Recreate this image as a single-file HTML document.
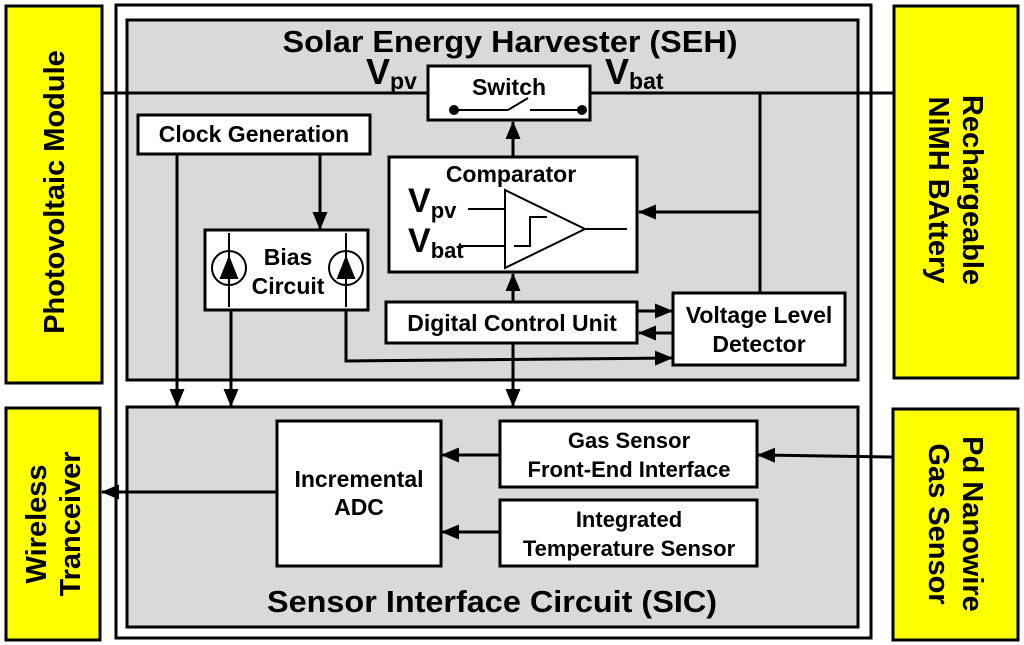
<!DOCTYPE html>
<html><head><style>
html,body{margin:0;padding:0;background:#fff;}
svg{display:block;font-family:"Liberation Sans",Arial,sans-serif;font-weight:bold;}
</style></head><body>
<svg width="1024" height="645" viewBox="0 0 1024 645" xmlns="http://www.w3.org/2000/svg">
<defs>
<marker id="a" markerWidth="18" markerHeight="18" refX="17" refY="9" orient="auto" markerUnits="userSpaceOnUse" viewBox="0 0 18 18"><path d="M0,1.5 L18,9 L0,16.5 z" fill="#000"/></marker>
</defs>
<g stroke="#000" stroke-width="3">
<rect x="6" y="6" width="96" height="377" fill="#ffff00"/>
<rect x="6" y="408" width="94" height="232" fill="#ffff00"/>
<rect x="894" y="6" width="124" height="372" fill="#ffff00"/>
<rect x="893" y="409" width="125" height="231" fill="#ffff00"/>
<rect x="116" y="5" width="755" height="633" fill="#fff"/>
<rect x="127" y="20" width="731" height="360" fill="#d9d9d9"/>
<rect x="127" y="407" width="731" height="220" fill="#d9d9d9"/>
</g>
<g stroke="#000" stroke-width="3" fill="none">
<line x1="102" y1="93" x2="428" y2="93"/>
<line x1="590" y1="93" x2="894" y2="93"/>
<line x1="760" y1="93" x2="760" y2="293"/>
<line x1="760" y1="212" x2="639" y2="212" marker-end="url(#a)"/>
<line x1="513" y1="157" x2="513" y2="122" marker-end="url(#a)"/>
<line x1="513" y1="302" x2="513" y2="274" marker-end="url(#a)"/>
<line x1="513" y1="343" x2="513" y2="406" marker-end="url(#a)"/>
<line x1="637" y1="311" x2="672" y2="311" marker-end="url(#a)"/>
<line x1="673" y1="333" x2="639" y2="333" marker-end="url(#a)"/>
<polyline points="346,310 346,361 672,358" marker-end="url(#a)"/>
<line x1="177" y1="154" x2="177" y2="406" marker-end="url(#a)"/>
<line x1="320" y1="154" x2="320" y2="229" marker-end="url(#a)"/>
<line x1="231" y1="310" x2="231" y2="406" marker-end="url(#a)"/>
<line x1="893" y1="457" x2="758" y2="455" marker-end="url(#a)"/>
<line x1="500" y1="455" x2="442" y2="455" marker-end="url(#a)"/>
<line x1="500" y1="532" x2="442" y2="532" marker-end="url(#a)"/>
<line x1="277" y1="492" x2="102" y2="492" marker-end="url(#a)"/>
</g>
<g stroke="#000" stroke-width="3" fill="#fff">
<rect x="428" y="66" width="162" height="54"/>
<rect x="138" y="115" width="232" height="39"/>
<rect x="205" y="230" width="163" height="80"/>
<rect x="389" y="157" width="248" height="115"/>
<rect x="386" y="302" width="251" height="41"/>
<rect x="673" y="293" width="172" height="72"/>
<rect x="277" y="421" width="164" height="145"/>
<rect x="500" y="421" width="257" height="66"/>
<rect x="500" y="500" width="257" height="66"/>
</g>
<g stroke="#000" stroke-width="2" fill="#000">
<circle cx="454" cy="110" r="4"/><circle cx="582" cy="110" r="4"/>
<line x1="454" y1="110" x2="508" y2="110"/>
<line x1="508" y1="110" x2="528" y2="98"/>
<line x1="530" y1="110" x2="582" y2="110"/>
</g>
<g stroke="#000" stroke-width="2" fill="none">
<polygon points="505,190 505,268 585,229" fill="#fff"/>
<line x1="585" y1="229" x2="627" y2="229"/>
<line x1="468" y1="209" x2="505" y2="209"/>
<line x1="460" y1="246" x2="505" y2="246"/>
<polyline points="514,246 530,246 530,217 547,217"/>
</g>
<g stroke="#000" stroke-width="2" fill="none">
<line x1="229" y1="233" x2="229" y2="307"/>
<circle cx="229" cy="268" r="17"/>
<polygon points="229,258 221,278 237,278" fill="#000"/>
<line x1="346" y1="233" x2="346" y2="307"/>
<circle cx="346" cy="268" r="17"/>
<polygon points="346,258 338,278 354,278" fill="#000"/>
</g>
<g fill="#000" text-anchor="middle">
<text x="510" y="52" font-size="31" textLength="455" lengthAdjust="spacingAndGlyphs">Solar Energy Harvester (SEH)</text>
<text x="492" y="612" font-size="31" textLength="450" lengthAdjust="spacingAndGlyphs">Sensor Interface Circuit (SIC)</text>
<text x="509" y="95" font-size="23">Switch</text>
<text x="254" y="142" font-size="23">Clock Generation</text>
<text x="288" y="265" font-size="23">Bias</text>
<text x="288" y="294" font-size="23">Circuit</text>
<text x="511" y="182" font-size="23">Comparator</text>
<text x="512" y="331" font-size="23">Digital Control Unit</text>
<text x="759" y="323" font-size="23">Voltage Level</text>
<text x="759" y="352" font-size="23">Detector</text>
<text x="359" y="487" font-size="23">Incremental</text>
<text x="359" y="515" font-size="23">ADC</text>
<text x="629" y="448" font-size="22">Gas Sensor</text>
<text x="629" y="477" font-size="22">Front-End Interface</text>
<text x="629" y="527" font-size="22">Integrated</text>
<text x="629" y="556" font-size="22">Temperature Sensor</text>
</g>
<g fill="#000">
<text x="366" y="84" font-size="36">V<tspan font-size="23" dy="5">pv</tspan></text>
<text x="605" y="84" font-size="36">V<tspan font-size="23" dy="5">bat</tspan></text>
<text x="408" y="212" font-size="34">V<tspan font-size="22" dy="6">pv</tspan></text>
<text x="408" y="252" font-size="34">V<tspan font-size="22" dy="6">bat</tspan></text>
</g>
<g fill="#000" text-anchor="middle" font-size="29">
<text transform="translate(64,192) rotate(-90)">Photovoltaic Module</text>
<text transform="translate(46,524) rotate(-90)">Wireless</text>
<text transform="translate(80,524) rotate(-90)">Tranceiver</text>
<text transform="translate(963,190) rotate(90)">Rechargeable</text>
<text transform="translate(929,190) rotate(90)">NiMH BAttery</text>
<text transform="translate(963,524) rotate(90)">Pd Nanowire</text>
<text transform="translate(929,524) rotate(90)">Gas Sensor</text>
</g>
</svg>
</body></html>
